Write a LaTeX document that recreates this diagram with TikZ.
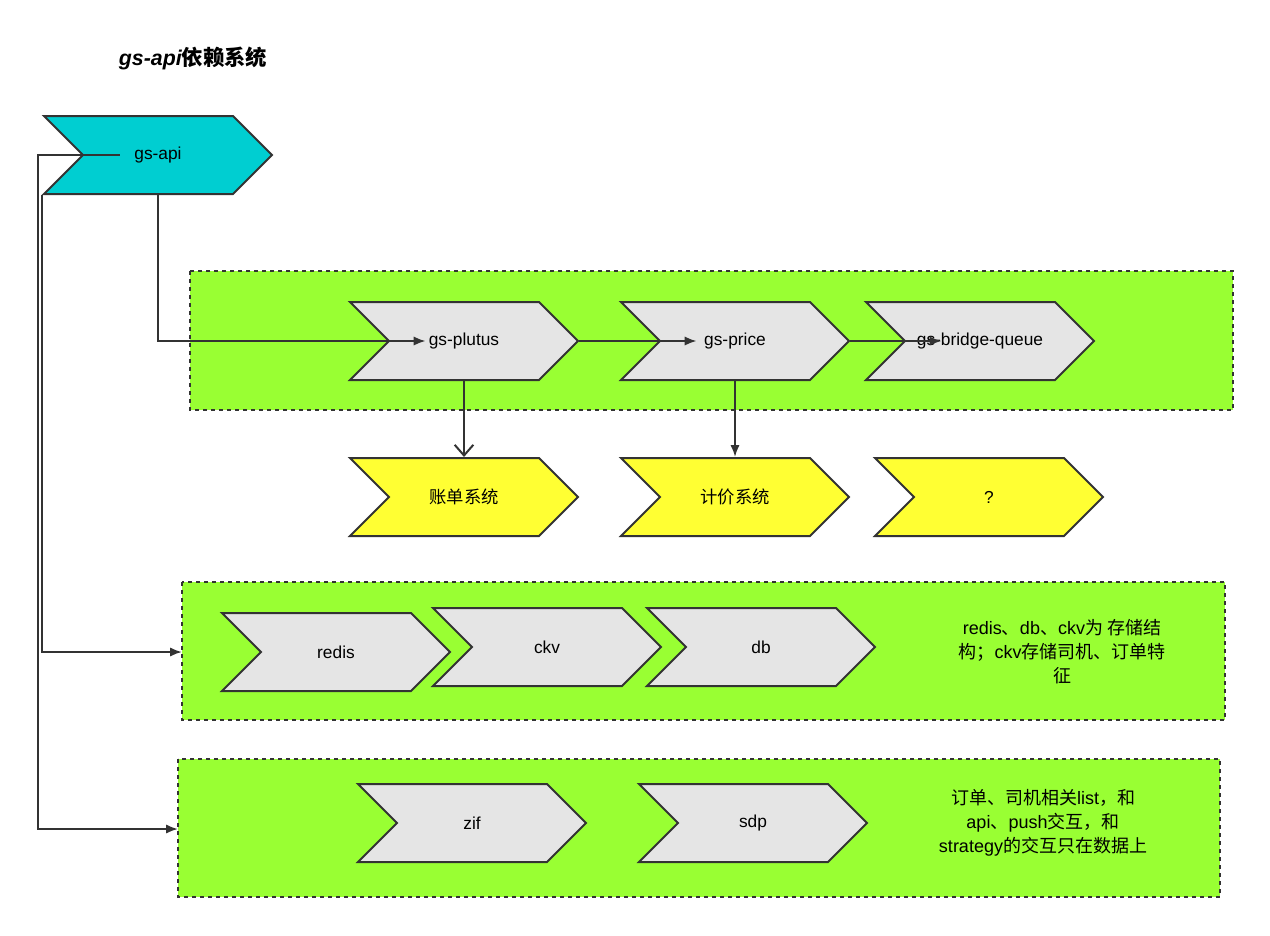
\documentclass[tikz,border=0pt]{standalone}
\usepackage{fontspec}
\setmainfont{Liberation Sans}
\newfontfamily\cjk{Noto Sans CJK SC}
\usetikzlibrary{shapes.symbols,arrows.meta}
\definecolor{zone}{RGB}{153,255,51}
\definecolor{apicol}{RGB}{0,206,209}
\definecolor{svc}{RGB}{229,229,229}
\definecolor{sys}{RGB}{255,255,51}
\definecolor{edge}{RGB}{51,51,51}
\tikzset{
  chev/.style={signal, signal from=west, signal to=east, signal pointer angle=90,
    minimum width=228*0.75pt, minimum height=78*0.75pt, inner sep=0pt,
    draw=edge, line width=1.5pt, font=\fontsize{13}{15}\selectfont},
  zonebox/.style={draw=edge, dashed, line width=1.5pt, fill=zone},
  link/.style={draw=edge, line width=1.5pt, -{Latex[length=9pt,width=7pt]}},
  note/.style={align=center, font=\fontsize{13.5}{18}\selectfont}
}
\begin{document}
\begin{tikzpicture}[x=0.75pt,y=-0.75pt]
  \useasboundingbox (0,0) rectangle (1270,935);
  \node[font=\bfseries\itshape\fontsize{16}{18}\selectfont] (title) at (193,58) {gs-api{\cjk 依赖系统}};

  % groups
  \draw[zonebox] (190,271) rectangle (1233,410);
  \draw[zonebox] (182,582) rectangle (1225,720);
  \draw[zonebox] (178,759) rectangle (1220,897);
  \coordinate (zone2) at (182,652);
  \coordinate (zone3) at (178,829);

  \node[chev, fill=apicol] (api) at (158,155) {gs-api};

  \node[chev, fill=svc] (plutus) at (464,341) {gs-plutus};
  \node[chev, fill=svc] (price) at (735,341) {gs-price};
  \node[chev, fill=svc] (bridge) at (980,341) {gs-bridge-queue};

  \node[chev, fill=sys] (bill) at (464,497) {\cjk 账单系统};
  \node[chev, fill=sys] (pricing) at (735,497) {\cjk 计价系统};
  \node[chev, fill=sys] (unknown) at (989,497) {?};

  \node[chev, fill=svc] (redis) at (336,652) {redis};
  \node[chev, fill=svc] (ckv) at (547,647) {ckv};
  \node[chev, fill=svc] (db) at (761,647) {db};

  \node[chev, fill=svc] (zif) at (472,823) {zif};
  \node[chev, fill=svc] (sdp) at (753,823) {sdp};

  \node[note] (store) at (1062,652) {redis{\cjk 、}db{\cjk 、}ckv{\cjk 为 存储结}\\{\cjk 构；}ckv{\cjk 存储司机、订单特}\\{\cjk 征}};
  \node[note] (data) at (1043,823) {{\cjk 订单、司机相关}list{\cjk ，和}\\api{\cjk 、}push{\cjk 交互，和}\\strategy{\cjk 的交互只在数据上}};

  % connectors
  \draw[link] (api.south) |- ([xshift=38*0.75pt]plutus.west);
  \draw[link] (plutus.east) -- ([xshift=38*0.75pt]price.west);
  \draw[link] (price.east) -- ([xshift=38*0.75pt]bridge.west);
  \draw[draw=edge, line width=1.5pt, -{Straight Barb[length=8pt,width=14pt]}] (plutus.south) -- (bill.north);
  \draw[link] (price.south) -- (pricing.north);
  \draw[link] (api.south west) |- (zone2);
  \draw[link] ([xshift=38*0.75pt]api.west) -- (38,155) |- (zone3);
\end{tikzpicture}
\end{document}
